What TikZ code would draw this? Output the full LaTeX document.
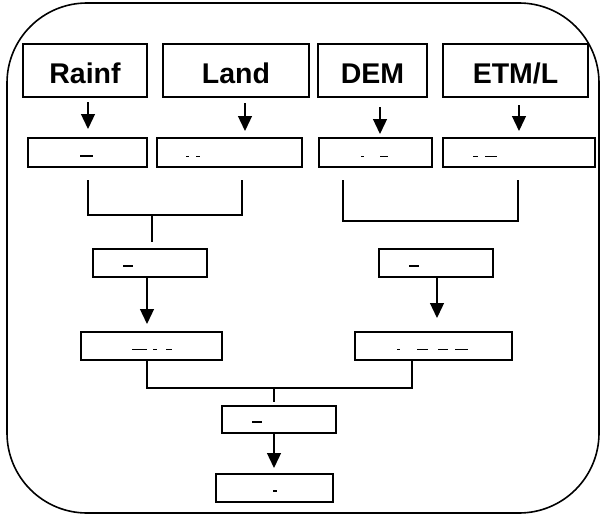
\documentclass[tikz,border=0pt]{standalone}
\usepackage{fontspec}
\setmainfont{Liberation Sans}
\usetikzlibrary{arrows.meta}
\tikzset{
  bigbox/.style={draw, line width=1.6pt, inner sep=0pt, outer sep=0pt, minimum height=53pt,
    text height=25.6pt, text depth=0pt,
    font=\fontsize{28.5}{31}\selectfont\bfseries},
  smallbox/.style={draw, line width=1.5pt, inner sep=0pt, outer sep=0pt, minimum height=28pt},
  conn/.style={line width=1.3pt},
  arr/.style={line width=1.3pt, -{Triangle[width=14pt,length=15pt]}},
  frag/.style={line width=1.7pt},
  frame/.style={line width=1.6pt, rounded corners=80pt}
}
\begin{document}
\begin{tikzpicture}[x=1pt,y=-1pt]
\useasboundingbox (0,0) rectangle (601,516);
\draw[frame] (7,3) rectangle (599,513);

% top row
\node[bigbox, minimum width=124pt] (rainf) at (85,70.5) {Rainf};
\node[bigbox, minimum width=146pt] (land) at (236,70.5) {Land};
\node[bigbox, minimum width=109pt] (dem) at (372.5,70.5) {DEM};
\node[bigbox, minimum width=145pt] (etm) at (515.5,70.5) {ETM/L};

% second row
\node[smallbox, minimum width=119pt, minimum height=29pt] (r1) at (87.5,152.5) {};
\node[smallbox, minimum width=145pt, minimum height=29pt] (r2) at (229.5,152.5) {};
\node[smallbox, minimum width=113pt, minimum height=29pt] (r3) at (375.5,152.5) {};
\node[smallbox, minimum width=152pt, minimum height=29pt] (r4) at (519,152.5) {};

% third row
\node[smallbox, minimum width=114pt] (c1) at (150,263) {};
\node[smallbox, minimum width=114pt] (c2) at (436,263) {};

% fourth row
\node[smallbox, minimum width=141pt] (d1) at (151.5,346) {};
\node[smallbox, minimum width=157pt] (d2) at (433.5,346) {};

% bottom
\node[smallbox, minimum width=114pt, minimum height=27pt] (e) at (279,419.5) {};
\node[smallbox, minimum width=117pt] (f) at (274.5,488) {};

% arrows top row -> second row
\draw[arr] ([xshift=3pt,yshift=-5pt]rainf.south) -- ([xshift=0.5pt,yshift=9pt]r1.north);
\draw[arr] ([xshift=9pt,yshift=-6pt]land.south) -- ([xshift=15.5pt,yshift=7pt]r2.north);
\draw[arr] ([xshift=7.5pt,yshift=-10pt]dem.south) -- ([xshift=4.5pt,yshift=4pt]r3.north);
\draw[arr] ([xshift=3.5pt,yshift=-8pt]etm.south) -- ([xshift=0pt,yshift=7pt]r4.north);

% brackets
\coordinate (jl) at (152,215);
\coordinate (jr) at (430,221);
\draw[conn] ([xshift=0.5pt,yshift=-13pt]r1.south) |- (jl) -| ([xshift=12.5pt,yshift=-13pt]r2.south);
\draw[conn] (jl) -- ([xshift=2pt,yshift=7pt]c1.north);
\draw[conn] ([xshift=-32.5pt,yshift=-13pt]r3.south) |- (jr) -| ([xshift=-1pt,yshift=-13pt]r4.south);

% third -> fourth
\draw[arr] ([xshift=-3pt]c1.south) -- ([xshift=-4.5pt,yshift=8pt]d1.north);
\draw[arr] ([xshift=1pt]c2.south) -- ([xshift=3.5pt,yshift=14pt]d2.north);

% fourth -> bottom
\coordinate (jb) at (274,388);
\draw[conn] ([xshift=-4.5pt]d1.south) |- (jb) -| ([xshift=-21.5pt]d2.south);
\draw[conn] (jb) -- ([xshift=-5pt,yshift=4pt]e.north);
\draw[arr] ([xshift=-5pt]e.south) -- ([xshift=-0.5pt,yshift=6pt]f.north);

% clipped text fragments
\draw[frag] (80,156) -- (93,156);
\draw[frag] (186,156.5) -- (189,156.5) (196,156.5) -- (200,156.5);
\draw[frag] (361,156.5) -- (364,156.5) (380,156.5) -- (388,156.5);
\draw[frag] (473,156.5) -- (478,156.5) (485,156.5) -- (497,156.5);
\draw[frag] (123,266) -- (133,266);
\draw[frag] (409,266) -- (419,266);
\draw[frag] (132,349.5) -- (147,349.5) (153,349.5) -- (157,349.5) (166,349.5) -- (172,349.5);
\draw[frag] (397,349.5) -- (400,349.5) (417,349.5) -- (428,349.5) (438,349.5) -- (448,349.5) (455,349.5) -- (468,349.5);
\draw[frag] (252,422) -- (262,422);
\draw[frag] (273,491) -- (277,491);
\end{tikzpicture}
\end{document}
